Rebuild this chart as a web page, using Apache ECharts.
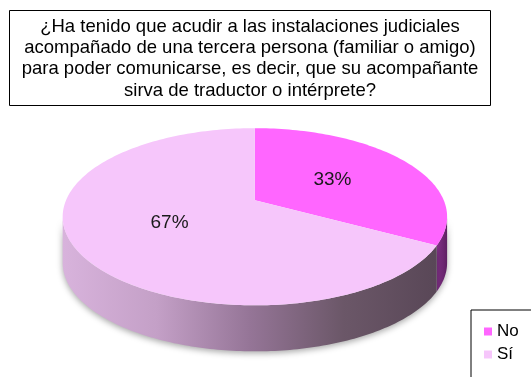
<!DOCTYPE html>
<html>
<head>
<meta charset="utf-8">
<script src="https://cdn.jsdelivr.net/npm/echarts@6/dist/echarts.min.js"></script>
<style>
  html, body { margin: 0; padding: 0; background: #ffffff; }
  #chart { width: 531px; height: 377px; }
</style>
</head>
<body>
<div id="chart"></div>
<script>
// Survey answers
const categories = ['No', 'Sí'];
const values = [33, 67];
const titleLines = [
  '¿Ha tenido que acudir a las instalaciones judiciales',
  'acompañado de una tercera persona (familiar o amigo)',
  'para poder comunicarse, es decir, que su acompañante',
  'sirva de traductor o intérprete?'
];

// Slice colours: top face and side wall gradient stops
const topColors = ['#ff66ff', '#f6c6fb'];
const sideStops = [
  [[0, '#84328a'], [1, '#5e1f62']],
  [[0, '#d8b3dc'], [0.25, '#c4a0c7'], [0.5, '#957597'], [0.75, '#6b5768'], [1, '#594757']]
];

const FONT = '"Liberation Sans", Arial, sans-serif';

const total = values.reduce((a, b) => a + b, 0);
const starts = [];
let acc = 0;
values.forEach(v => { starts.push(acc); acc += v; });

// Tilted-disc geometry, as fractions of the canvas size
const PIE = { cx: 0.48, cy: 0.575, rx: 0.362, ry: 0.235, depth: 0.122, tilt: -0.186 };

// Perspective projection of a point on the flat disc (angle phi, radius r)
// onto the normalised ellipse of the top face.
function project(phi, r) {
  const a = PIE.tilt, k = Math.sqrt(1 - a * a);
  const c = Math.cos(phi) * r, s = Math.sin(phi) * r;
  const d = 1 + a * s;
  return [c * k / d, (s + a) / d];
}
function paramAngle(phi) {
  const p = project(phi, 1);
  return Math.atan2(p[1], p[0]);
}

function renderSlice(params, api) {
  const W = api.getWidth(), H = api.getHeight();
  const cx = PIE.cx * W, cy = PIE.cy * H, rx = PIE.rx * W, ry = PIE.ry * H;
  const depth = PIE.depth * H;
  const idx = api.value(0);
  const startVal = api.value(1), val = api.value(2), tot = api.value(3);

  const phi1 = -Math.PI / 2 + startVal / tot * 2 * Math.PI;
  const phi2 = phi1 + val / tot * 2 * Math.PI;
  const t1 = paramAngle(phi1);
  let t2 = paramAngle(phi2);
  while (t2 <= t1) t2 += 2 * Math.PI;

  const ell = (t, dy) => [cx + rx * Math.cos(t), cy + ry * Math.sin(t) + (dy || 0)];
  const arc = (a, b, dy) => {
    const n = Math.max(2, Math.ceil(Math.abs(b - a) / 0.02));
    const pts = [];
    for (let j = 0; j <= n; j++) pts.push(ell(a + (b - a) * j / n, dy));
    return pts;
  };

  const children = [];

  // visible front wall: parameter range [0, PI] (and its 2PI shift)
  [[0, Math.PI], [2 * Math.PI, 3 * Math.PI]].forEach(([lo, hi]) => {
    const a = Math.max(t1, lo), b = Math.min(t2, hi);
    if (b > a) {
      const pts = arc(a, b, 0).concat(arc(b, a, depth));
      children.push({
        type: 'polygon',
        shape: { points: pts },
        style: {
          fill: {
            type: 'linear', x: 0, y: 0, x2: 1, y2: 0,
            colorStops: sideStops[idx].map(s => ({ offset: s[0], color: s[1] }))
          },
          shadowBlur: 6,
          shadowColor: 'rgba(0,0,0,0.35)',
          shadowOffsetY: 2
        }
      });
    }
  });

  // top face sector
  const apex = [cx, cy + PIE.tilt * ry];
  const topPts = [apex].concat(arc(t1, t2, 0));
  children.push({
    type: 'polygon',
    shape: { points: topPts },
    style: { fill: topColors[idx] }
  });

  // percentage label at half radius along the mid angle
  const mid = (phi1 + phi2) / 2;
  const lp = project(mid, 0.5);
  children.push({
    type: 'text',
    x: cx + lp[0] * rx,
    y: cy + lp[1] * ry,
    style: {
      text: Math.round(val / tot * 100) + '%',
      fill: '#1a1a1a',
      font: '19px ' + FONT,
      align: 'center',
      verticalAlign: 'middle'
    }
  });

  return { type: 'group', children: children };
}

const chart = echarts.init(document.getElementById('chart'), null, { renderer: 'canvas' });

chart.setOption({
  backgroundColor: '#ffffff',
  animation: false,
  title: {
    text: titleLines.join('\n'),
    left: 238,
    top: 10,
    textAlign: 'center',
    padding: [6, 12, 5, 12],
    borderColor: '#000000',
    borderWidth: 1,
    textStyle: {
      fontFamily: FONT,
      fontSize: 18.5,
      fontWeight: 'normal',
      color: '#000000',
      lineHeight: 21.3
    }
  },
  legend: {
    data: categories,
    orient: 'vertical',
    left: 471,
    top: 310,
    height: 90,
    padding: [13, 30, 20, 13],
    itemWidth: 8,
    itemHeight: 8,
    itemGap: 6,
    icon: 'rect',
    borderColor: '#000000',
    borderWidth: 1,
    selectedMode: false,
    textStyle: {
      fontFamily: FONT,
      fontSize: 17,
      color: '#000000'
    }
  },
  series: categories.map((name, i) => ({
    type: 'custom',
    name: name,
    coordinateSystem: 'none',
    silent: true,
    itemStyle: { color: topColors[i] },
    renderItem: renderSlice,
    data: [[i, starts[i], values[i], total]]
  }))
});
</script>
</body>
</html>
